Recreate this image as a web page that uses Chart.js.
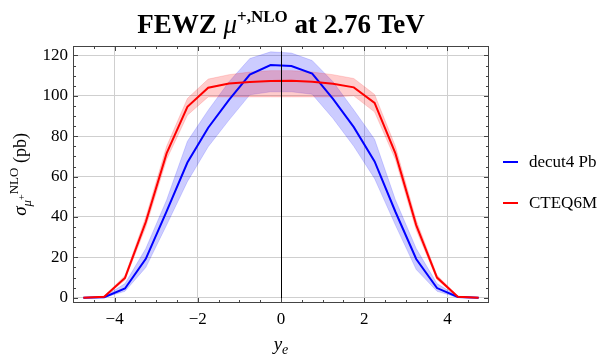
<!DOCTYPE html>
<html lang="en">
<head>
<meta charset="UTF-8">
<title>FEWZ mu+ NLO at 2.76 TeV</title>
<script src="https://cdn.jsdelivr.net/npm/chart.js"></script>
<style>
  html, body { margin: 0; padding: 0; background: #fff; }
  #wrap { width: 611px; height: 362px; }
</style>
</head>
<body>
<div id="wrap"><canvas id="chart" width="611" height="362"></canvas></div>
<script>
// rapidity bins (y_e)
const rapidity = [-4.75, -4.25, -3.75, -3.25, -2.75, -2.25, -1.75, -1.25, -0.75, -0.25,
                  0.25, 0.75, 1.25, 1.75, 2.25, 2.75, 3.25, 3.75, 4.25, 4.75];

// decut4 Pb (blue) central value and band
const decutPb = [0, 0.3, 4.6, 19.3, 42.8, 67, 84.2, 98, 110.5, 115.3,
                 114.8, 111, 98.5, 84.5, 67.5, 42.6, 19.2, 4.8, 0.4, 0];
const decutPbHigh = [0.1, 0.6, 7, 24.4, 48.4, 77.5, 92.9, 107, 118.5, 121.8,
                     121.2, 117.5, 107, 93, 78.5, 48.5, 24.4, 7, 0.7, 0.1];
const decutPbLow = [0, 0.1, 3.2, 15, 36, 57.5, 74.8, 88, 100.5, 102,
                    102, 100.8, 88.8, 75, 59, 36, 14, 3.2, 0.1, 0];

// CTEQ6M (red) central value and band
const cteq = [0, 0.5, 9.8, 37.5, 71.5, 94.6, 104, 106.1, 106.9, 107.4,
              107.5, 107, 106, 104.2, 96.5, 71.5, 36, 10, 0.5, 0];
const cteqHigh = [0.1, 0.8, 11, 40, 75, 98.7, 108.3, 110.5, 111.8, 112.5,
                  112.5, 111.8, 110.5, 108.6, 100.7, 75, 38.5, 11.2, 0.8, 0.1];
const cteqLow = [0, 0.3, 8.8, 35, 68.5, 90.4, 99.5, 99.5, 99.5, 99.5,
                 99.5, 99.5, 99.5, 100, 92, 68.5, 33.5, 9, 0.3, 0];

const xTicks = [-4, -2, 0, 2, 4];
const yTicks = [0, 20, 40, 60, 80, 100, 120];

const SERIF = '"Liberation Serif", "DejaVu Serif", serif';

function pts(arr) {
  return rapidity.map((x, i) => ({ x: x, y: arr[i] }));
}

function fmt(v) {
  return v < 0 ? '\u2212' + Math.abs(v) : String(v);
}

// draw a row of text pieces with different fonts / offsets
function drawPieces(ctx, pieces, x, y) {
  let w = 0;
  pieces.forEach(p => { ctx.font = p.font; w += ctx.measureText(p.text).width; });
  let cx = x - w / 2;
  pieces.forEach(p => {
    ctx.font = p.font;
    ctx.fillText(p.text, cx, y + (p.dy || 0));
    cx += ctx.measureText(p.text).width;
  });
}

const decor = {
  id: 'decor',
  afterDatasetsDraw(chart) {
    const ctx = chart.ctx, a = chart.chartArea;
    const x0 = Math.round(chart.scales.x.getPixelForValue(0)) + 0.5;
    ctx.save();
    ctx.strokeStyle = '#000';
    ctx.lineWidth = 1;
    ctx.beginPath();
    ctx.moveTo(x0, a.top);
    ctx.lineTo(x0, a.bottom);
    ctx.stroke();
    ctx.restore();
  },
  afterDraw(chart) {
    const ctx = chart.ctx, a = chart.chartArea;
    const sx = chart.scales.x, sy = chart.scales.y;
    ctx.save();

    // frame
    ctx.strokeStyle = '#444';
    ctx.lineWidth = 1;
    ctx.strokeRect(Math.round(a.left) + 0.5, Math.round(a.top) + 0.5,
                   Math.round(a.right - a.left) - 1, Math.round(a.bottom - a.top) - 1);

    // inward ticks
    ctx.beginPath();
    for (let v = -4.5; v <= 4.5; v += 0.5) {
      const len = (v % 2 === 0) ? 5 : 3;
      const px = Math.round(sx.getPixelForValue(v)) + 0.5;
      ctx.moveTo(px, a.bottom); ctx.lineTo(px, a.bottom - len);
      ctx.moveTo(px, a.top); ctx.lineTo(px, a.top + len);
    }
    for (let v = 0; v <= 120; v += 5) {
      const len = (v % 20 === 0) ? 5 : 3;
      const py = Math.round(sy.getPixelForValue(v)) + 0.5;
      ctx.moveTo(a.left, py); ctx.lineTo(a.left + len, py);
      ctx.moveTo(a.right, py); ctx.lineTo(a.right - len, py);
    }
    ctx.stroke();

    ctx.fillStyle = '#000';
    ctx.textBaseline = 'alphabetic';
    ctx.textAlign = 'left';

    // title
    const cx = (a.left + a.right) / 2;
    drawPieces(ctx, [
      { text: 'FEWZ ', font: 'bold 27px ' + SERIF },
      { text: '\u03bc', font: 'italic 27px ' + SERIF },
      { text: '+,NLO', font: 'bold 17px ' + SERIF, dy: -11 },
      { text: ' at 2.76 TeV', font: 'bold 27px ' + SERIF }
    ], cx, 33);

    // x axis title
    drawPieces(ctx, [
      { text: 'y', font: 'italic 19px ' + SERIF },
      { text: 'e', font: 'italic 14px ' + SERIF, dy: 4 }
    ], cx, 350);

    // y axis title (rotated)
    ctx.save();
    ctx.translate(26, (a.top + a.bottom) / 2);
    ctx.rotate(-Math.PI / 2);
    drawPieces(ctx, [
      { text: '\u03c3', font: 'italic 19px ' + SERIF },
      { text: '\u03bc', font: 'italic 13px ' + SERIF, dy: 5 },
      { text: '+', font: '10px ' + SERIF, dy: -1 },
      { text: 'NLO', font: '13px ' + SERIF, dy: -8 },
      { text: ' (pb)', font: '18px ' + SERIF }
    ], 0, 0);
    ctx.restore();

    // legend
    const items = [
      { label: 'decut4 Pb', color: '#0000ff', y: 162 },
      { label: 'CTEQ6M', color: '#ff0000', y: 203 }
    ];
    ctx.font = '17px ' + SERIF;
    ctx.textBaseline = 'middle';
    items.forEach(it => {
      ctx.strokeStyle = it.color;
      ctx.lineWidth = 2;
      ctx.beginPath();
      ctx.moveTo(503, it.y); ctx.lineTo(518, it.y);
      ctx.stroke();
      ctx.fillText(it.label, 529, it.y + 1);
    });
    ctx.restore();
  }
};

new Chart(document.getElementById('chart'), {
  type: 'line',
  data: {
    datasets: [
      { label: 'decut4 Pb high', data: pts(decutPbHigh), fill: '+1',
        backgroundColor: 'rgba(0,0,255,0.2)', borderColor: 'rgba(0,0,255,0.15)', borderWidth: 1, order: 4 },
      { label: 'decut4 Pb low', data: pts(decutPbLow), fill: false,
        borderColor: 'rgba(0,0,255,0.15)', borderWidth: 1, order: 4 },
      { label: 'CTEQ6M high', data: pts(cteqHigh), fill: '+1',
        backgroundColor: 'rgba(255,0,0,0.2)', borderColor: 'rgba(255,0,0,0.15)', borderWidth: 1, order: 3 },
      { label: 'CTEQ6M low', data: pts(cteqLow), fill: false,
        borderColor: 'rgba(255,0,0,0.15)', borderWidth: 1, order: 3 },
      { label: 'decut4 Pb', data: pts(decutPb), fill: false,
        borderColor: '#0000ff', borderWidth: 2, order: 2 },
      { label: 'CTEQ6M', data: pts(cteq), fill: false,
        borderColor: '#ff0000', borderWidth: 2, order: 1 }
    ]
  },
  options: {
    responsive: false,
    animation: false,
    devicePixelRatio: 1,
    layout: { padding: { top: 46, right: 122, left: 0, bottom: 0 } },
    elements: { point: { radius: 0 }, line: { tension: 0 } },
    plugins: { legend: { display: false }, tooltip: { enabled: false }, title: { display: false } },
    scales: {
      x: {
        type: 'linear', min: -5, max: 5,
        afterBuildTicks: s => { s.ticks = xTicks.map(v => ({ value: v })); },
        afterFit: s => { s.height = 59; },
        border: { display: false },
        grid: {
          drawTicks: false,
          color: c => (c.tick && c.tick.value !== 0) ? '#cfcfcf' : 'rgba(0,0,0,0)'
        },
        ticks: {
          padding: 6, maxRotation: 0, autoSkip: false, color: '#000',
          font: { family: SERIF, size: 17 },
          callback: v => fmt(v)
        }
      },
      y: {
        type: 'linear', min: -2.6, max: 124.7,
        afterBuildTicks: s => { s.ticks = yTicks.map(v => ({ value: v })); },
        afterFit: s => { s.width = 73; },
        border: { display: false },
        grid: { drawTicks: false, color: '#cfcfcf' },
        ticks: {
          padding: 5, color: '#000',
          font: { family: SERIF, size: 17 },
          callback: v => fmt(v)
        }
      }
    }
  },
  plugins: [decor]
});
</script>
</body>
</html>
